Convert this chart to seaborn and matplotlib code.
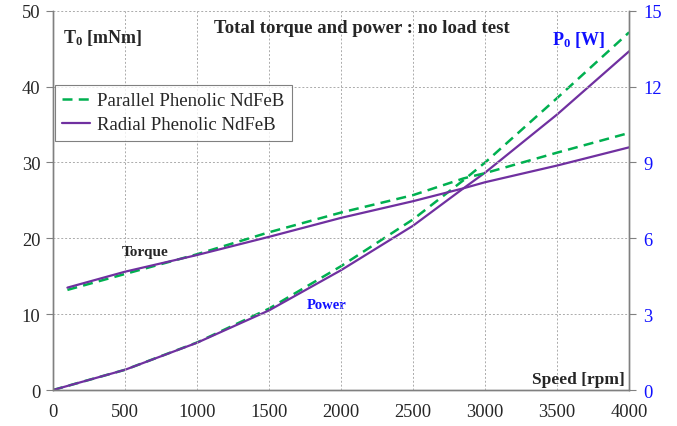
import matplotlib
matplotlib.use("Agg")
import matplotlib.pyplot as plt
import seaborn as sns

# values
speed_torque = [100, 500, 1000, 1500, 2000, 2500, 2850, 3000, 3500, 4000]
torque_parallel = [13.2, 15.3, 17.9, 20.8, 23.4, 25.7, 27.9, 28.6, 31.3, 33.9]
torque_radial = [13.5, 15.6, 17.8, 20.2, 22.7, 24.9, 26.6, 27.4, 29.6, 32.0]

speed_power = [0, 500, 1000, 1500, 2000, 2500, 2850, 3000, 3500, 4000]
power_parallel = [0.0, 0.80, 1.88, 3.22, 4.90, 6.75, 8.30, 9.00, 11.55, 14.15]
power_radial = [0.0, 0.80, 1.87, 3.15, 4.74, 6.50, 7.98, 8.60, 10.90, 13.40]

labels = ["Parallel Phenolic NdFeB", "Radial Phenolic NdFeB"]
green = "#00B050"
purple = "#7030A0"
blue = "#1010FF"

sns.set_style("white")
plt.rcParams["font.family"] = ["Liberation Serif", "DejaVu Serif"]
plt.rcParams["mathtext.fontset"] = "custom"
plt.rcParams["mathtext.rm"] = "Liberation Serif"
plt.rcParams["mathtext.bf"] = "Liberation Serif:bold"

fig = plt.figure(figsize=(6.77, 4.27), dpi=100)
ax = fig.add_axes([0.0783, 0.0843, 0.851, 0.888])
ax2 = ax.twinx()

sns.lineplot(x=speed_torque, y=torque_parallel, ax=ax, color=green, lw=1.8,
             linestyle=(0, (4, 2.5)), label=labels[0])
sns.lineplot(x=speed_torque, y=torque_radial, ax=ax, color=purple, lw=1.6,
             label=labels[1])
sns.lineplot(x=speed_power, y=power_parallel, ax=ax2, color=green, lw=1.8,
             linestyle=(0, (4, 2.5)), legend=False)
sns.lineplot(x=speed_power, y=power_radial, ax=ax2, color=purple, lw=1.6,
             legend=False)

ax.set_xlim(0, 4000)
ax.set_ylim(0, 50)
ax2.set_ylim(0, 15)
ax.set_xticks(range(0, 4001, 500))
ax.set_yticks(range(0, 51, 10))
ax2.set_yticks(range(0, 16, 3))

grid_kw = dict(color="#ababab", linestyle=(0, (2, 2)), lw=0.7)
ax.grid(True, **grid_kw)
ax.set_axisbelow(True)

for a in (ax, ax2):
    a.spines["top"].set_visible(False)
    for s in ("left", "bottom", "right"):
        a.spines[s].set_color("#808080")
        a.spines[s].set_linewidth(1.0)
    a.set_xlabel("")
    a.set_ylabel("")

ax.tick_params(axis="both", direction="out", length=5, width=0.8, color="#808080",
               labelsize=13.3, pad=4)
ax2.tick_params(axis="y", direction="out", length=5, width=0.8, color="#808080",
                labelsize=13.3, labelcolor=blue, pad=5)

ax.text(0.536, 0.955, "Total torque and power : no load test", transform=ax.transAxes,
        ha="center", va="center", fontsize=13.5, fontweight="bold")
ax.text(0.017, 0.93, r"$\mathbf{T_0}$ [mNm]", transform=ax.transAxes,
        ha="left", va="center", fontsize=13, fontweight="bold")
ax.text(0.958, 0.925, r"$\mathbf{P_0}$ [W]", transform=ax.transAxes,
        ha="right", va="center", fontsize=13, fontweight="bold", color=blue)
ax.text(0.993, 0.03, "Speed [rpm]", transform=ax.transAxes,
        ha="right", va="center", fontsize=12.5, fontweight="bold")
ax.text(640, 18.2, "Torque", ha="center", va="center", fontsize=11, fontweight="bold")
ax2.text(1900, 3.4, "Power", ha="center", va="center", fontsize=10.5,
         fontweight="bold", color=blue)

leg = ax.legend(loc="upper left", bbox_to_anchor=(0.003, 0.805), frameon=True,
                fancybox=False, fontsize=13.5, handlelength=1.5, handletextpad=0.35,
                borderpad=0.4, labelspacing=0.35, borderaxespad=0)
leg.get_frame().set_edgecolor("#606060")
leg.get_frame().set_linewidth(0.8)
leg.set_zorder(10)
ax.set_zorder(ax2.get_zorder() + 1)
ax.patch.set_visible(False)

fig.savefig("out.png", dpi=100)
